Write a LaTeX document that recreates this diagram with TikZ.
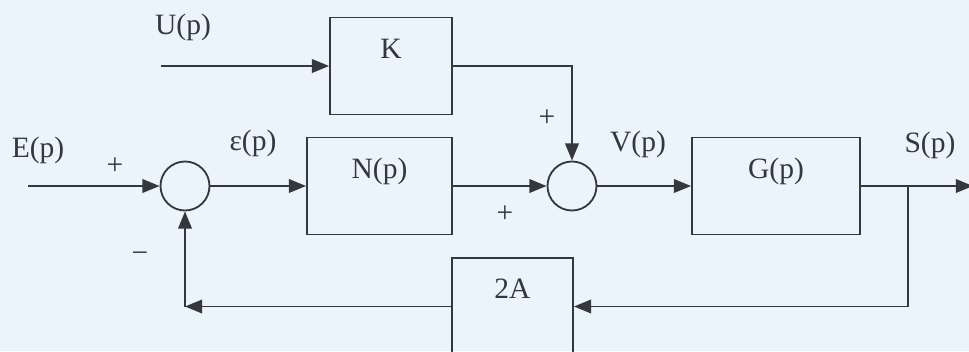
\documentclass[tikz,border=0pt]{standalone}
\usepackage{fontspec}
\setmainfont{Liberation Serif}
\usetikzlibrary{arrows.meta,positioning,calc}
\definecolor{paper}{RGB}{235,243,251}
\definecolor{ink}{RGB}{52,55,60}

\begin{document}
\begin{tikzpicture}[
    x=0.025cm,y=-0.025cm,
    font=\fontsize{21}{23}\selectfont,
    block/.style={draw=ink,line width=1.3pt,minimum height=2.425cm,
        text height=0.55cm,text depth=0.95cm,inner sep=0pt,text=ink},
    sum/.style={draw=ink,line width=1.3pt,circle,minimum size=1.225cm,inner sep=0pt},
    arrow/.style={-{Triangle[length=4.3mm,width=3.4mm]},line width=1.3pt,draw=ink},
    lab/.style={text=ink,inner sep=0pt}
]
\fill[paper,use as bounding box] (0,0) rectangle (969,351);
\node[block,minimum width=3.05cm] (gainK) at (391,66) {K};
\node[block,minimum width=3.625cm] (blockN) at (379.5,186) {N(p)};
\node[block,minimum width=4.2cm] (blockG) at (776,186) {G(p)};
\node[block,minimum width=3.025cm] (gainA) at (512.5,306.5) {2A};
\node[sum] (sum1) at (185,186) {};
\node[sum] (sum2) at (572,186) {};
\coordinate (uin) at (161,66);
\coordinate (ein) at (28,186);
\coordinate (branch) at (908,186);
\coordinate (out) at (973,186);
\coordinate (fbcorner) at (sum1 |- gainA.west);
\node[lab] (labU) at (183,27) {U(p)};
\node[lab] (labE) at (38,150) {E(p)};
\node[lab] (labeps) at (253,143) {ε(p)};
\node[lab] (labV) at (638,144) {V(p)};
\node[lab] (labS) at (930,145) {S(p)};
\node[lab] (plusE) at (115,166) {+};
\node[lab] (minusA) at (140,257) {−};
\node[lab] (plusK) at (547,118) {+};
\node[lab] (plusN) at (505,214) {+};
\draw[arrow] (uin) -- (gainK.west);
\draw[arrow] (gainK.east) -| (sum2.north);
\draw[arrow] (ein) -- (sum1.west);
\draw[arrow] (sum1.east) -- (blockN.west);
\draw[arrow] (blockN.east) -- (sum2.west);
\draw[arrow] (sum2.east) -- (blockG.west);
\draw[arrow] (blockG.east) -- (out);
\draw[arrow] (branch) |- (gainA.east);
\draw[arrow] (gainA.west) -- (fbcorner);
\draw[arrow] (fbcorner) -- (sum1.south);
\end{tikzpicture}
\end{document}
